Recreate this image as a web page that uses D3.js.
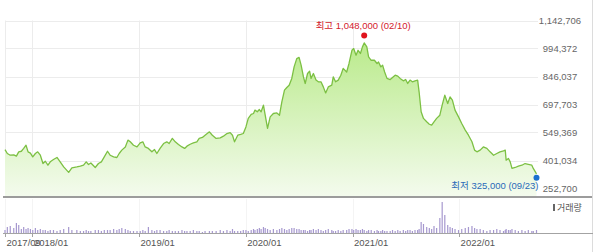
<!DOCTYPE html>
<html>
<head>
<meta charset="utf-8">
<script src="https://cdn.jsdelivr.net/npm/d3@7"></script>
<style>
  html, body { margin: 0; padding: 0; background: #fff; }
  svg { display: block; font-family: "Liberation Sans", "Noto Sans CJK KR", sans-serif; }
</style>
</head>
<body>
<div id="chart"></div>
<script>
// 주간 종가
const dates = [
  "2017-09-29","2017-10-07","2017-10-17","2017-10-29","2017-11-07","2017-11-15","2017-11-24","2017-12-02","2017-12-10","2017-12-17",
  "2017-12-25","2018-01-02","2018-01-11","2018-01-19","2018-01-28","2018-02-06","2018-02-14","2018-02-23","2018-03-03","2018-03-14",
  "2018-03-26","2018-04-06","2018-04-18","2018-05-05","2018-05-16","2018-06-02","2018-06-14","2018-06-25","2018-07-04","2018-07-12",
  "2018-07-20","2018-08-04","2018-08-15","2018-08-25","2018-09-04","2018-09-15","2018-09-24","2018-10-06","2018-10-17","2018-10-25",
  "2018-11-03","2018-11-15","2018-11-24","2018-12-02","2018-12-13","2018-12-25","2019-01-05","2019-01-14","2019-01-22","2019-02-02",
  "2019-02-14","2019-02-23","2019-03-03","2019-03-14","2019-03-26","2019-04-06","2019-04-14","2019-04-25","2019-05-05","2019-05-16",
  "2019-05-28","2019-06-06","2019-06-14","2019-06-25","2019-07-06","2019-07-18","2019-07-26","2019-08-06","2019-08-15","2019-08-30",
  "2019-09-09","2019-09-22","2019-10-06","2019-10-17","2019-10-29","2019-11-09","2019-11-17","2019-11-24","2019-12-05","2019-12-15",
  "2019-12-24","2020-01-02","2020-01-10","2020-01-20","2020-01-28","2020-02-02","2020-02-10","2020-02-17","2020-02-23","2020-03-02",
  "2020-03-08","2020-03-16","2020-03-25","2020-04-05","2020-04-17","2020-04-26","2020-05-04","2020-05-13","2020-05-21","2020-05-29",
  "2020-06-07","2020-06-15","2020-06-24","2020-07-02","2020-07-09","2020-07-17","2020-07-23","2020-07-31","2020-08-07","2020-08-12",
  "2020-08-20","2020-08-29","2020-09-06","2020-09-15","2020-09-23","2020-10-01","2020-10-10","2020-10-22","2020-10-27","2020-11-04",
  "2020-11-13","2020-11-22","2020-11-30","2020-12-12","2020-12-20","2020-12-30","2021-01-05","2021-01-13","2021-01-20","2021-01-28",
  "2021-02-04","2021-02-10","2021-02-19","2021-02-25","2021-03-06","2021-03-17","2021-03-26","2021-03-31","2021-04-08","2021-04-14",
  "2021-04-21","2021-04-29","2021-05-10","2021-05-18","2021-05-27","2021-06-05","2021-06-13","2021-06-24","2021-07-02","2021-07-09",
  "2021-07-17","2021-07-25","2021-08-03","2021-08-12","2021-08-17","2021-08-24","2021-09-01","2021-09-12","2021-09-21","2021-09-29",
  "2021-10-07","2021-10-16","2021-10-27","2021-11-04","2021-11-13","2021-11-23","2021-12-01","2021-12-09","2021-12-18","2021-12-30",
  "2022-01-10","2022-01-22","2022-02-02","2022-02-14","2022-02-23","2022-03-03","2022-03-14","2022-03-25","2022-04-06","2022-04-17",
  "2022-04-29","2022-05-10","2022-05-21","2022-06-02","2022-06-08","2022-06-11","2022-06-19","2022-06-25","2022-07-01","2022-07-12",
  "2022-07-23","2022-08-04","2022-08-15","2022-08-26","2022-09-07","2022-09-12","2022-09-23"
];

const closes = [
  459000,438000,429000,431000,424000,447000,450000,465000,482000,447000,
  440000,420000,438000,447000,429000,385000,397000,376000,394000,406000,
  417000,394000,367000,338000,362000,367000,371000,376000,394000,380000,
  388000,364000,385000,394000,420000,450000,429000,420000,417000,438000,
  456000,473000,509000,500000,482000,473000,494000,500000,473000,465000,
  447000,459000,438000,465000,491000,500000,491000,518000,500000,486000,
  473000,465000,477000,487000,494000,500000,518000,523000,535000,553000,
  535000,518000,521000,530000,544000,549000,535000,500000,535000,539000,
  544000,579000,624000,645000,650000,668000,659000,671000,659000,694000,
  641000,571000,632000,650000,653000,641000,712000,774000,788000,800000,
  836000,897000,941000,947000,906000,844000,809000,862000,874000,836000,
  862000,827000,818000,818000,791000,759000,791000,800000,844000,818000,
  827000,853000,889000,870000,915000,985000,994000,959000,985000,968000,
  1003000,1024000,1003000,950000,932000,932000,915000,923000,897000,906000,
  870000,836000,830000,841000,853000,848000,836000,823000,830000,809000,
  827000,818000,823000,827000,765000,659000,624000,606000,593000,588000,
  606000,624000,641000,694000,747000,703000,738000,721000,668000,632000,
  597000,562000,535000,500000,456000,447000,456000,473000,465000,447000,
  429000,438000,447000,452000,456000,403000,412000,394000,359000,364000,
  371000,376000,385000,381000,376000,359000,330000
];

// 거래량 (천 주)
const volumes = [
  120,240,280,200,400,320,160,240,160,200,
  160,120,200,120,160,120,120,80,120,120,
  80,120,160,240,120,120,80,80,120,80,
  80,120,120,80,120,120,120,160,120,160,
  200,160,120,80,80,80,80,120,80,240,
  120,80,120,120,80,80,120,80,80,80,
  120,80,80,80,120,80,80,40,80,80,
  80,80,120,80,120,80,160,80,80,80,
  120,120,80,120,160,120,160,200,160,240,
  200,160,120,160,120,160,200,160,120,160,
  200,200,160,160,120,120,120,80,120,120,
  160,120,160,120,80,120,160,120,80,80,
  120,80,120,120,160,160,120,160,120,120,
  160,120,80,120,120,80,120,80,80,120,
  80,80,80,120,80,120,80,120,80,120,
  120,80,120,120,160,440,360,240,200,160,
  280,200,600,1240,720,320,240,200,160,120,
  160,200,240,280,200,160,160,120,80,120,
  120,160,120,80,120,160,120,120,160,120,
  80,120,80,120,80,80,120
];

const yTicks = [252700, 401034, 549369, 697703, 846037, 994372, 1142706];
const xTickDates = ["2017-09-29", "2018-01-01", "2019-01-01", "2020-01-01", "2021-01-01", "2022-01-01"];
const xTickLabels = ["2017/09", "2018/01", "2019/01", "2020/01", "2021/01", "2022/01"];

const highLabel = "최고 1,048,000 (02/10)";
const highDate = "2021-02-10";
const highValue = 1048000;
const lowLabel = "최저 325,000 (09/23)";
const lowDate = "2022-09-23";
const lowValue = 325000;
const volumeLabel = "거래량";

const width = 600, height = 252;
const parse = d3.timeParse("%Y-%m-%d");
const data = dates.map((d, i) => ({ date: parse(d), close: closes[i], volume: volumes[i] }));

// 영역
const plotLeft = 5, plotRight = 536.5, gridRight = 538;
const plotTop = 20.5, plotBottom = 197;
const volTop = 202, volBottom = 233;

const x = d3.scaleTime()
    .domain([parse(dates[0]), parse(dates[dates.length - 1])])
    .range([plotLeft, plotRight]);

const y = d3.scaleLinear()
    .domain([yTicks[0], yTicks[yTicks.length - 1]])
    .range([188.5, plotTop]);

const yVol = d3.scaleLinear()
    .domain([0, d3.max(volumes)])
    .range([volBottom, volTop]);

const svg = d3.select("#chart").append("svg")
    .attr("width", width)
    .attr("height", height);

const defs = svg.append("defs");
const grad = defs.append("linearGradient")
    .attr("id", "fillGrad")
    .attr("gradientUnits", "userSpaceOnUse")
    .attr("x1", 0).attr("x2", 0)
    .attr("y1", 40).attr("y2", plotBottom);
grad.append("stop").attr("offset", "0%").attr("stop-color", "#b9ea8a");
grad.append("stop").attr("offset", "100%").attr("stop-color", "#f4fbee");

// 그리드
svg.append("g")
    .selectAll("line")
    .data(yTicks)
    .join("line")
    .attr("x1", plotLeft).attr("x2", gridRight)
    .attr("y1", d => Math.round(y(d)) + 0.5)
    .attr("y2", d => Math.round(y(d)) + 0.5)
    .attr("stroke", "#ececec");

svg.append("g")
    .selectAll("line")
    .data(xTickDates)
    .join("line")
    .attr("x1", d => Math.round(x(parse(d))) + 0.5)
    .attr("x2", d => Math.round(x(parse(d))) + 0.5)
    .attr("y1", plotTop).attr("y2", plotBottom)
    .attr("stroke", "#ececec");

// 영역 + 선
const area = d3.area()
    .x(d => x(d.date))
    .y0(plotBottom)
    .y1(d => y(d.close));

const line = d3.line()
    .x(d => x(d.date))
    .y(d => y(d.close));

svg.append("path")
    .datum(data)
    .attr("d", area)
    .attr("fill", "url(#fillGrad)");

svg.append("path")
    .datum(data)
    .attr("d", line)
    .attr("fill", "none")
    .attr("stroke", "#7cc043")
    .attr("stroke-width", 1.3)
    .attr("stroke-linejoin", "round");

// 하단 경계선
svg.append("line")
    .attr("x1", 3).attr("x2", 593)
    .attr("y1", plotBottom).attr("y2", plotBottom)
    .attr("stroke", "#9c9c9c")
    .attr("stroke-width", 2);

// 위젯 오른쪽 경계
svg.append("line")
    .attr("x1", 592.5).attr("x2", 592.5)
    .attr("y1", 0).attr("y2", height)
    .attr("stroke", "#dcdcdc");

// Y축 라벨
svg.append("g")
    .selectAll("text")
    .data(yTicks)
    .join("text")
    .attr("x", 560)
    .attr("y", d => y(d))
    .attr("dy", "0.35em")
    .attr("text-anchor", "middle")
    .attr("font-size", "9.5px")
    .attr("fill", "#666")
    .text(d => d3.format(",")(d));

// 최고 / 최저 표시
svg.append("circle")
    .attr("cx", x(parse(highDate)))
    .attr("cy", y(highValue) - 3)
    .attr("r", 3)
    .attr("fill", "#e0141e");

svg.append("text")
    .attr("x", x(parse(highDate)) - 1)
    .attr("y", 26)
    .attr("dy", "0.35em")
    .attr("text-anchor", "middle")
    .attr("font-size", "9.5px")
    .attr("fill", "#d3202c")
    .text(highLabel);

svg.append("circle")
    .attr("cx", x(parse(lowDate)))
    .attr("cy", y(lowValue) + 3)
    .attr("r", 3)
    .attr("fill", "#1a6fd0");

svg.append("text")
    .attr("x", x(parse(lowDate)) + 2)
    .attr("y", 186)
    .attr("dy", "0.35em")
    .attr("text-anchor", "end")
    .attr("font-size", "9.5px")
    .attr("fill", "#2a6ab8")
    .text(lowLabel);

// 거래량
svg.append("g")
    .selectAll("line")
    .data(xTickDates)
    .join("line")
    .attr("x1", d => Math.round(x(parse(d))) + 0.5)
    .attr("x2", d => Math.round(x(parse(d))) + 0.5)
    .attr("y1", 199).attr("y2", volBottom)
    .attr("stroke", "#f4f4f4");

svg.append("g")
    .selectAll("rect")
    .data(data)
    .join("rect")
    .attr("x", d => x(d.date) - 0.6)
    .attr("width", 1.2)
    .attr("y", d => yVol(d.volume))
    .attr("height", d => volBottom - yVol(d.volume))
    .attr("fill", "#a698cf");

svg.append("line")
    .attr("x1", 3).attr("x2", 593)
    .attr("y1", volBottom + 0.5).attr("y2", volBottom + 0.5)
    .attr("stroke", "#a3a3a3");

svg.append("g")
    .selectAll("line")
    .data(xTickDates)
    .join("line")
    .attr("x1", d => Math.round(x(parse(d))) + 0.5)
    .attr("x2", d => Math.round(x(parse(d))) + 0.5)
    .attr("y1", volBottom).attr("y2", volBottom + 4)
    .attr("stroke", "#a3a3a3");

// X축 라벨
svg.append("g")
    .selectAll("text")
    .data(xTickDates)
    .join("text")
    .attr("x", d => x(parse(d)) + 1.5)
    .attr("y", 243)
    .attr("dy", "0.35em")
    .attr("font-size", "9.5px")
    .attr("fill", "#555")
    .text((d, i) => xTickLabels[i]);

// 거래량 범례
svg.append("rect")
    .attr("x", 553).attr("y", 204)
    .attr("width", 2).attr("height", 7)
    .attr("fill", "#666");

svg.append("text")
    .attr("x", 557)
    .attr("y", 208)
    .attr("dy", "0.35em")
    .attr("font-size", "9px")
    .attr("fill", "#555")
    .text(volumeLabel);
</script>
</body>
</html>
